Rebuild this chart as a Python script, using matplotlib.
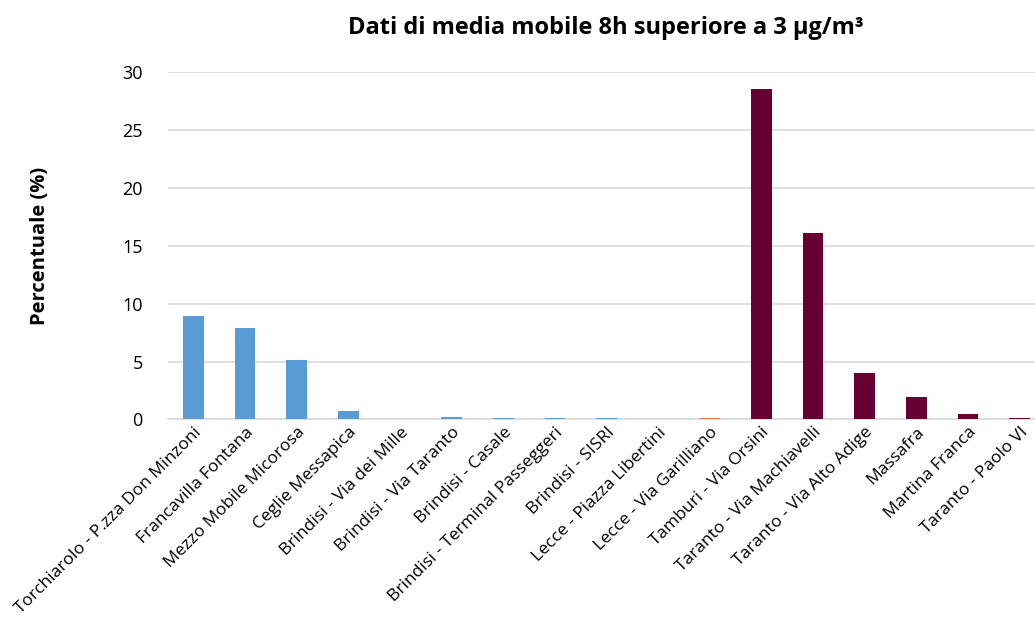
import matplotlib.pyplot as plt
import numpy as np

plt.rcParams['font.family'] = ['Open Sans', 'DejaVu Sans']

# Stazioni e percentuali di dati sopra soglia
stazioni = [
    'Torchiarolo - P.zza Don Minzoni', 'Francavilla Fontana', 'Mezzo Mobile Micorosa',
    'Ceglie Messapica', 'Brindisi - Via dei Mille', 'Brindisi - Via Taranto',
    'Brindisi - Casale', 'Brindisi - Terminal Passeggeri', 'Brindisi - SISRI',
    'Lecce - Piazza Libertini', 'Lecce - Via Garilliano', 'Tamburi - Via Orsini',
    'Taranto - Via Machiavelli', 'Taranto - Via Alto Adige', 'Massafra',
    'Martina Franca', 'Taranto - Paolo VI',
]
percentuali = [8.9, 7.9, 5.1, 0.7, 0.0, 0.2, 0.1, 0.1, 0.1, 0.0, 0.1,
               28.5, 16.1, 4.0, 1.9, 0.45, 0.12]
# provincia: 0 = Brindisi, 1 = Lecce, 2 = Taranto
provincia = [0, 0, 0, 0, 0, 0, 0, 0, 0, 1, 1, 2, 2, 2, 2, 2, 2]
colori_prov = ['#5B9BD5', '#ED7D31', '#660033']

fig = plt.figure(figsize=(10.35, 6.26), dpi=100)
ax = fig.add_axes([0.162, 0.33, 0.838, 0.555])

x = np.arange(len(stazioni))
colori = [colori_prov[p] for p in provincia]
ax.bar(x, percentuali, width=0.4, color=colori, zorder=3)

ax.set_xlim(-0.5, 16.3)
ax.set_ylim(0, 30)
ax.set_yticks(range(0, 31, 5))
ax.yaxis.grid(True, color='#D9D9D9', linewidth=1.2, zorder=0)
for s in ['top', 'right', 'left']:
    ax.spines[s].set_visible(False)
ax.spines['bottom'].set_color('#D9D9D9')
ax.spines['bottom'].set_linewidth(1.2)
ax.spines['bottom'].set_zorder(1)
ax.tick_params(axis='both', length=0, labelsize=13, colors='#000000')
ax.tick_params(axis='y', pad=18)

ax.set_xticks(x)
ax.set_xticklabels(stazioni, rotation=45, ha='right', rotation_mode='anchor', fontsize=12.5)

ax.set_ylabel('Percentuale (%)', fontsize=14.5, fontweight='bold', labelpad=52)
fig.text(0.585, 0.955, 'Dati di media mobile 8h superiore a 3 \u03bcg/m\u00b3',
         ha='center', va='center', fontsize=17, fontweight='bold')

fig.savefig('out.png', dpi=100)
